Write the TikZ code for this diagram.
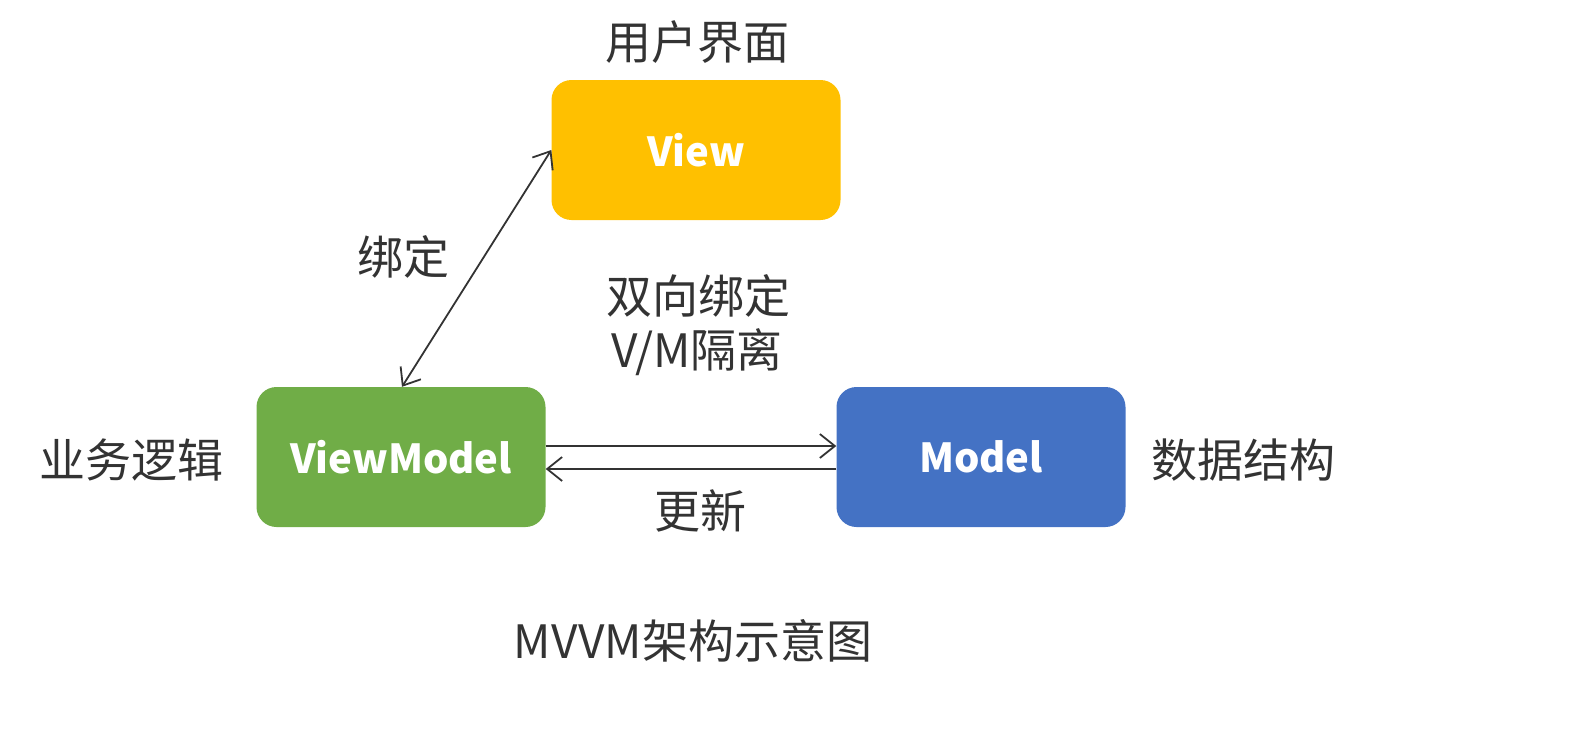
\documentclass[tikz,border=0pt]{standalone}
\usepackage{fontspec}
\setmainfont{Noto Sans CJK SC}
\usepackage{tikz}
\usetikzlibrary{arrows.meta}

\definecolor{viewyellow}{HTML}{FFC000}
\definecolor{vmgreen}{HTML}{70AD47}
\definecolor{modelblue}{HTML}{4472C4}

\tikzset{
  layer/.style={rounded corners=20pt, minimum width=289pt, minimum height=140pt,
    inner sep=0pt, text=white, font=\fontsize{40}{44}\selectfont\bfseries},
  note/.style={inner sep=0pt, text=black!80, font=\fontsize{46}{50}\selectfont},
  barb/.tip={Straight Barb[length=15pt,width=24pt]},
  link/.style={line width=1.8pt, black!80, -barb}
}

\begin{document}
\begin{tikzpicture}[x=1pt, y=-1pt]
      \useasboundingbox (0,0) rectangle (1569,736);
      \node[layer, fill=viewyellow] (v) at (696, 150) {View};
      \node[layer, fill=vmgreen] (vm) at (401, 457) {ViewModel};
      \node[layer, fill=modelblue] (m) at (981, 457) {Model};

      \node[note] (vlabel) at (697, 42) {用户界面}; \node[note] (vmlabel) at (131, 460) {业务逻辑};
      \node[note] (mlabel) at (1243, 460) {数据结构}; \node[note] (bind) at (403, 257) {绑定};
      \node[note] (twoway) at (698, 296) {双向绑定}; \node[note] (iso) at (697, 352) {V/M隔离};
      \node[note] (update) at (700, 511) {更新}; \node[note] (title) at (693, 641) {MVVM架构示意图};

      \draw[link, barb-barb] ([xshift=1pt]vm.north) to (v.west);
      \draw[link] ([yshift=11pt]vm.east) to ([yshift=11pt]m.west);
      \draw[link] ([yshift=-12pt]m.west) to ([yshift=-12pt]vm.east);
    \end{tikzpicture}
\end{document}
